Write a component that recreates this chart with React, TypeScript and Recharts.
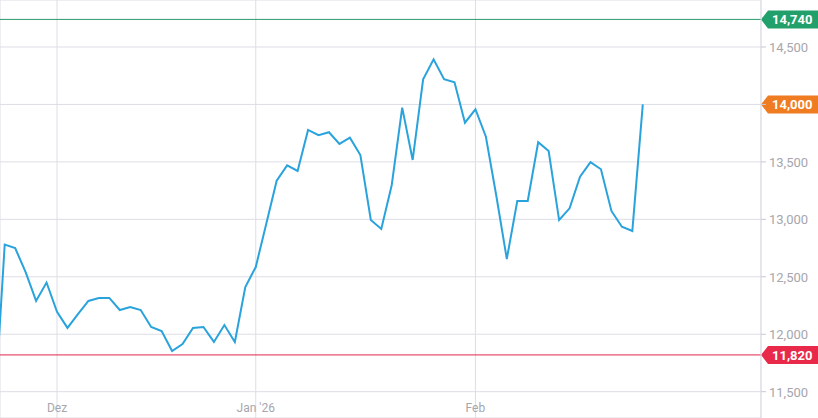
import React from "react";
import { LineChart, Line, XAxis, YAxis, CartesianGrid, ReferenceLine } from "recharts";

const dates: string[] = [
  "2025-11-21", "2025-11-24", "2025-11-25", "2025-11-26", "2025-11-27", "2025-11-28",
  "2025-12-01", "2025-12-02", "2025-12-03", "2025-12-04", "2025-12-05", "2025-12-08", "2025-12-09", "2025-12-10", "2025-12-11", "2025-12-12",
  "2025-12-15", "2025-12-16", "2025-12-17", "2025-12-18", "2025-12-19", "2025-12-22", "2025-12-23", "2025-12-29", "2025-12-30",
  "2026-01-02", "2026-01-05", "2026-01-06", "2026-01-07", "2026-01-08", "2026-01-09", "2026-01-12", "2026-01-13", "2026-01-14", "2026-01-15", "2026-01-16",
  "2026-01-19", "2026-01-20", "2026-01-21", "2026-01-22", "2026-01-23", "2026-01-26", "2026-01-27", "2026-01-28", "2026-01-29", "2026-01-30",
  "2026-02-02", "2026-02-03", "2026-02-04", "2026-02-05", "2026-02-06", "2026-02-09", "2026-02-10", "2026-02-11", "2026-02-12", "2026-02-13",
  "2026-02-16", "2026-02-17", "2026-02-18", "2026-02-19", "2026-02-20", "2026-02-23", "2026-02-24",
];

const prices: number[] = [
  11290, 12780, 12750, 12540, 12290, 12450,
  12195, 12055, 12175, 12290, 12316, 12316, 12211, 12237, 12211, 12063, 12028, 11854, 11915, 12054, 12063, 11933, 12080, 11933, 12411,
  12585, 12960, 13336, 13470, 13421, 13778, 13732, 13758, 13656, 13711, 13560, 12994, 12916, 13299, 13972, 13517, 14219, 14393, 14219, 14193, 13841,
  13958, 13719, 13203, 12655, 13160, 13160, 13671, 13595, 12994, 13096, 13371, 13497, 13436, 13073, 12936, 12899, 14000,
];

const monthTickIndex: number[] = [6, 25, 46];
const monthTickLabels: string[] = ["Dez", "Jan '26", "Feb"];
const yTicks: number[] = [11500, 12000, 12500, 13000, 13500, 14000, 14500];
const highValue = 14740;
const lowValue = 11820;
const lastValue = 14000;

const data = dates.map((d, i) => ({ i, date: d, price: prices[i] }));

const fmt = (v: number) => v.toLocaleString("en-US");

const makeTag = (value: number, color: string) => (props: any) => {
  const vb = props.viewBox || {};
  const right = (vb.x || 0) + (vb.width || 0);
  const y = vb.y || 0;
  const tip = right;
  const base = right + 7;
  const end = right + 57;
  const h = 9;
  return (
    <g>
      <polygon
        points={`${tip},${y} ${base},${y - h} ${end},${y - h} ${end},${y + h} ${base},${y + h}`}
        fill={color}
      />
      <text
        x={base + 4}
        y={y}
        dy={5}
        fill="#ffffff"
        fontSize={13}
        fontWeight={700}
        fontFamily="Roboto, Arial, sans-serif"
      >
        {fmt(value)}
      </text>
    </g>
  );
};

const XTick = (props: any) => {
  const { x, y, payload } = props;
  const idx = monthTickIndex.indexOf(payload.value);
  return (
    <text
      x={x}
      y={y}
      dy={-6}
      textAnchor="middle"
      fill="#a6a6ae"
      fontSize={12}
      fontFamily="Roboto, Arial, sans-serif"
    >
      {idx >= 0 ? monthTickLabels[idx] : ""}
    </text>
  );
};

const YTick = (props: any) => {
  const { x, y, payload } = props;
  if (payload.value === lastValue) return <g />;
  return (
    <text
      x={x}
      y={y}
      dy={5}
      textAnchor="start"
      fill="#a6a6ae"
      fontSize={13}
      fontFamily="Roboto, Arial, sans-serif"
    >
      {fmt(payload.value)}
    </text>
  );
};

export default function App() {
  return (
    <div style={{ position: "absolute", left: 0, top: 0, width: 818, height: 418, background: "#ffffff" }}>
      <LineChart width={818} height={418} data={data} margin={{ top: 0, right: 0, bottom: 0, left: 0 }}>
        <CartesianGrid stroke="#dddde6" strokeWidth={1} />
        <XAxis
          dataKey="i"
          type="number"
          domain={[0.55, 73.3]}
          allowDataOverflow
          ticks={monthTickIndex}
          height={1}
          mirror
          tickSize={0}
          tickMargin={0}
          axisLine={false}
          tickLine={false}
          tick={<XTick />}
          interval={0}
        />
        <YAxis
          orientation="right"
          width={57}
          domain={[11271, 14909]}
          allowDataOverflow
          ticks={yTicks}
          axisLine={{ stroke: "#dddde6" }}
          tickLine={{ stroke: "#c8c8d0" }}
          tickSize={5}
          tickMargin={3}
          tick={<YTick />}
        />
        <ReferenceLine
          y={highValue}
          segment={[{ x: 1.1, y: highValue }, { x: 73.3, y: highValue }]}
          stroke="#2a9a6c"
          strokeWidth={1}
          label={makeTag(highValue, "#22a06b")}
        />
        <ReferenceLine
          y={lowValue}
          segment={[{ x: 1.1, y: lowValue }, { x: 73.3, y: lowValue }]}
          stroke="#e3264a"
          strokeWidth={1}
          label={makeTag(lowValue, "#e8294a")}
        />
        <ReferenceLine
          y={lastValue}
          stroke="transparent"
          label={makeTag(lastValue, "#f07c22")}
        />
        <Line
          type="linear"
          dataKey="price"
          stroke="#2aa3dc"
          strokeWidth={2}
          dot={false}
          activeDot={false}
          isAnimationActive={false}
        />
      </LineChart>
    </div>
  );
}
